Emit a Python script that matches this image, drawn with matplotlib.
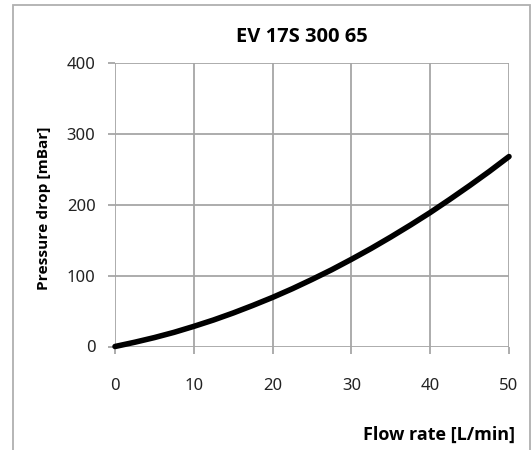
"""
Pressure drop curve for EV 17S 300 65.
"""

import matplotlib
matplotlib.use("Agg")
import matplotlib.pyplot as plt
from matplotlib.patches import Rectangle

# flow rate [L/min] and pressure drop [mBar]
flow = [0, 2.5, 5, 7.5, 10, 12.5, 15, 17.5, 20, 22.5, 25,
        27.5, 30, 32.5, 35, 37.5, 40, 42.5, 45, 47.5, 50]
pressure = [0, 6, 12.6, 20, 28.4, 37.4, 47.3, 58, 69.3, 81.5, 94.6,
            108.3, 123, 138.3, 154.5, 171.4, 189, 207.7, 227, 247, 268]

x_ticks = [0, 10, 20, 30, 40, 50]
y_ticks = [0, 100, 200, 300, 400]

title = "EV 17S 300 65"
x_label = "Flow rate [L/min]"
y_label = "Pressure drop [mBar]"

GRID = "#a6a6a6"
TICK_FONT = ["Noto Sans", "DejaVu Sans"]
LABEL_FONT = ["Open Sans", "DejaVu Sans"]

fig = plt.figure(figsize=(5.32, 4.5), dpi=100)
W, H = 532.0, 450.0

# outer chart frame, runs off the bottom of the picture
fig.patches.append(Rectangle((12.5 / W, -0.05), (530 - 12.5) / W,
                             (1 - 4.5 / H) + 0.05,
                             transform=fig.transFigure, fill=False,
                             edgecolor="#b0b0b0", linewidth=1.3))

ax = fig.add_axes([115 / W, 1 - 346.5 / H, (509 - 115) / W,
                   (346.5 - 63) / H])
ax.plot(flow, pressure, color="black", linewidth=4, solid_capstyle="round",
        clip_on=False, zorder=3)

ax.set_xlim(0, 50)
ax.set_ylim(0, 400)
ax.set_xticks(x_ticks)
ax.set_yticks(y_ticks)
ax.grid(True, color=GRID, linewidth=1.3)
ax.set_axisbelow(True)
for side in ax.spines.values():
    side.set_visible(False)
ax.tick_params(axis="both", color=GRID, width=1.3, length=5)
ax.tick_params(axis="x", pad=18)
ax.tick_params(axis="y", pad=9)
for lab in ax.get_xticklabels() + ax.get_yticklabels():
    lab.set_family(TICK_FONT)
    lab.set_fontsize(12)
    lab.set_color("#222222")

fig.text(301.5 / W, 1 - 37.5 / H, title, ha="center", va="center",
         family=LABEL_FONT, fontweight="bold", fontsize=14.5)
fig.text(44 / W, 1 - 208.5 / H, y_label, ha="center", va="center",
         rotation=90, family=LABEL_FONT, fontweight="bold", fontsize=11.1)
fig.text(515 / W, 1 - 435 / H, x_label, ha="right", va="center",
         family=LABEL_FONT, fontweight="bold", fontsize=13)

plt.savefig("out.png", dpi=100)
